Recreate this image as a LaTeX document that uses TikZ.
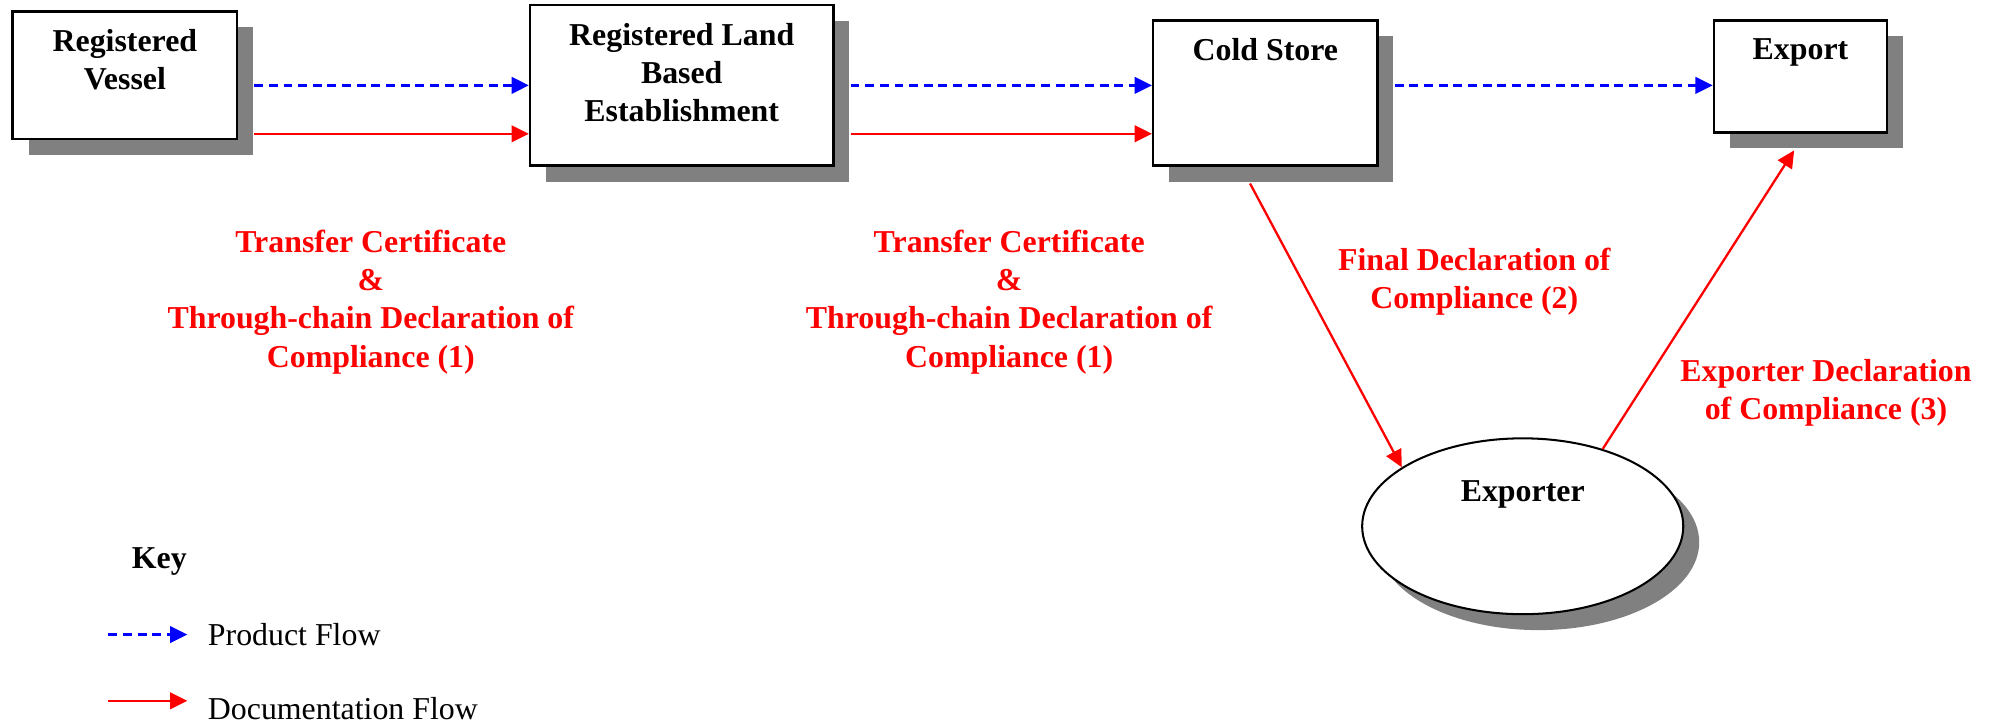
\documentclass[tikz,border=0pt]{standalone}
\usepackage{fontspec}
\setmainfont{Liberation Serif}
\usetikzlibrary{arrows.meta, shapes.geometric, shadows, positioning}

\begin{document}
\begin{tikzpicture}[x = 1pt, y = -1pt, > = {Triangle[length = 13.5pt, width = 13pt]},
	every node/.style = {inner sep = 0pt, font = \fontsize{25}{30}\selectfont},
	box/.style = {draw, fill = white, line width = 2pt,
		drop shadow = {shadow xshift = 12.5pt, shadow yshift = -12.5pt, fill = gray, opacity = 1}},
	title/.style = {align = center, font = \fontsize{25}{30}\selectfont\bfseries},
	paper/.style = {title, red},
	doc/.style = {->, red, line width = 1.8pt},
	product/.style = {->, blue, line width = 1.8pt, dash pattern = on 7pt off 4.5pt}]

	\useasboundingbox (0, 0) rectangle (1568, 567);

	% The boxes

	\node[box, minimum width = 176pt, minimum height = 100pt] (vessel) at (98, 59) {};
	\node[box, minimum width = 238pt, minimum height = 126pt] (rlbe) at (535, 67) {};
	\node[box, minimum width = 176pt, minimum height = 114pt] (cold) at (993, 73) {};
	\node[box, minimum width = 136pt, minimum height = 88pt] (export) at (1413, 60) {};
	\node[box, ellipse, line width = 1.6pt, minimum width = 252pt, minimum height = 138pt] (exporter) at (1195, 413) {};

	\node[title, below = 15pt of vessel.north] (vesseltitle) {Registered\\Vessel};
	\node[title, below = 15pt of rlbe.north] (rlbetitle) {Registered Land\\Based\\Establishment};
	\node[title, below = 15pt of cold.north] (coldtitle) {Cold Store};
	\node[title, below = 15pt of export.north] (exporttitle) {Export};
	\node[title, below = 34pt of exporter.north] (exportertitle) {Exporter};

	% Flows

	\coordinate (prodline) at (0, 67);
	\coordinate (docline) at (0, 105);

	\begin{scope}[shorten <= 12.5pt]

		\draw[product] (vessel.east |- prodline) -- (rlbe.west |- prodline);
		\draw[product] (rlbe.east |- prodline) -- (cold.west |- prodline);
		\draw[product] (cold.east |- prodline) -- (export.west |- prodline);

		\draw[doc] (vessel.east |- docline) -- (rlbe.west |- docline);
		\draw[doc] (rlbe.east |- docline) -- (cold.west |- docline);

	\end{scope}

	\draw[doc] ([xshift = -12pt, yshift = -13pt]cold.south) -- (exporter.154);
	\draw[doc] (exporter.44) -- ([xshift = -5pt, yshift = -13pt]export.south);

	% Documents

	\node[paper] (cert1) at (291, 237) {Transfer Certificate\\\&\\Through-chain Declaration of\\Compliance (1)};
	\node[paper] (cert2) at (792, 237) {Transfer Certificate\\\&\\Through-chain Declaration of\\Compliance (1)};
	\node[paper] (finaldec) at (1157, 221) {Final Declaration of\\Compliance (2)};
	\node[paper] (exportdec) at (1433, 308) {Exporter Declaration\\of Compliance (3)};

	% Key

	\node[title] (key) at (125, 441) {Key};

	\coordinate (prodstart) at (85, 498);
	\coordinate (prodend) at (147, 498);
	\coordinate (docstart) at (85, 550);
	\coordinate (docend) at (147, 550);

	\draw[product] (prodstart) -- (prodend);
	\draw[doc] (docstart) -- (docend);

	\node[anchor = west] (prodkey) at (163, 498) {Product Flow};
	\node[anchor = west] (dockey) at (163, 556) {Documentation Flow};

\end{tikzpicture}
\end{document}
